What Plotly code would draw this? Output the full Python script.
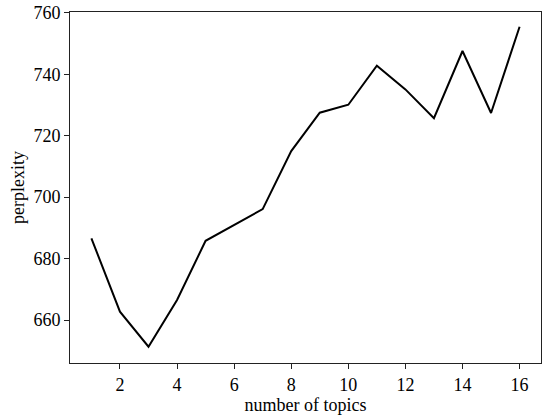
import plotly.graph_objects as go

topics = list(range(1, 17))
perplexity = [686.6, 662.7, 651.3, 666.5, 685.8, 690.9, 696.1, 715.0,
              727.5, 730.1, 742.8, 735.1, 725.7, 747.6, 727.4, 755.5]
x_ticks = [2, 4, 6, 8, 10, 12, 14, 16]
y_ticks = [660, 680, 700, 720, 740, 760]

FONT = "Liberation Serif, Times New Roman, serif"

fig = go.Figure()
fig.add_trace(go.Scatter(x=topics, y=perplexity, mode="lines",
                         line=dict(color="black", width=2), showlegend=False))

axis_common = dict(showline=True, linecolor="#222", linewidth=1, mirror=True,
                   ticks="outside", ticklen=5, tickwidth=1, tickcolor="#222",
                   showgrid=False, zeroline=False, automargin=False,
                   ticklabeloverflow="allow",
                   tickfont=dict(family=FONT, size=18, color="black"))

fig.update_xaxes(range=[0.25, 16.75], tickvals=x_ticks,
                 title=dict(text="number of topics", font=dict(family=FONT, size=18, color="black"), standoff=0),
                 **axis_common)
fig.update_yaxes(range=[646.0, 760.3], tickvals=y_ticks,
                 title=dict(text="perplexity", font=dict(family=FONT, size=18, color="black"), standoff=4),
                 **axis_common)

fig.update_layout(width=550, height=419, margin=dict(l=70, r=9, t=12, b=56),
                  plot_bgcolor="white", paper_bgcolor="white",
                  font=dict(family=FONT, size=18, color="black"))

fig.write_html("out.html", config={"displayModeBar": False},
               post_script="document.body.style.margin='0';document.body.style.overflow='hidden';")
